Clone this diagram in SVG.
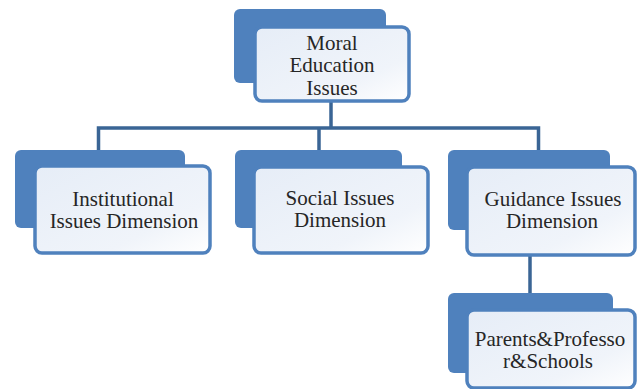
<svg xmlns="http://www.w3.org/2000/svg" width="637" height="389" viewBox="0 0 637 389">
<defs>
<linearGradient id="fg" x1="0" y1="0" x2="1" y2="1">
<stop offset="0" stop-color="#e6edf7"/>
<stop offset="0.7" stop-color="#f0f4fa"/>
<stop offset="1" stop-color="#ffffff"/>
</linearGradient>
<style>
.back{fill:#4f81bd;}
.front{fill:url(#fg);stroke:#4f81bd;stroke-width:3.5;}
.conn{fill:none;stroke:#3a6595;stroke-width:3.5;}
.t{font-family:'Liberation Serif','Times New Roman',serif;font-size:21px;fill:#262626;text-anchor:middle;}
</style>
</defs>
<rect width="637" height="389" fill="#ffffff"/>
<g id="connectors">
<path class="conn" d="M331,100 V128"/>
<path class="conn" d="M98.5,150 V128 H538.5 V150"/>
<path class="conn" d="M319,128 V150"/>
<path class="conn" d="M530,255 V293"/>
</g>
<g id="moral">
<rect class="back" x="234" y="9" width="152" height="74" rx="6"/>
<rect class="front" x="255" y="27" width="154" height="74" rx="7"/>
<text class="t" x="332" y="50">Moral</text>
<text class="t" x="332" y="72">Education</text>
<text class="t" x="332" y="95">Issues</text>
</g>
<g id="institutional">
<rect class="back" x="15" y="150" width="170" height="78" rx="6"/>
<rect class="front" x="35" y="166" width="175" height="87" rx="7"/>
<text class="t" x="123" y="206">Institutional</text>
<text class="t" x="124" y="228">Issues Dimension</text>
</g>
<g id="social">
<rect class="back" x="235" y="150" width="167" height="78" rx="6"/>
<rect class="front" x="254" y="167" width="174" height="86" rx="7"/>
<text class="t" x="340" y="205">Social Issues</text>
<text class="t" x="340" y="227">Dimension</text>
</g>
<g id="guidance">
<rect class="back" x="448" y="150" width="162" height="80" rx="6"/>
<rect class="front" x="467" y="167" width="168" height="88" rx="7"/>
<text class="t" x="553" y="206">Guidance Issues</text>
<text class="t" x="552" y="228">Dimension</text>
</g>
<g id="parents">
<rect class="back" x="448" y="293" width="165" height="80" rx="6"/>
<rect class="front" x="467" y="310" width="168" height="78" rx="7"/>
<text class="t" x="550" y="346">Parents&amp;Professo</text>
<text class="t" x="548" y="368">r&amp;Schools</text>
</g>
</svg>
